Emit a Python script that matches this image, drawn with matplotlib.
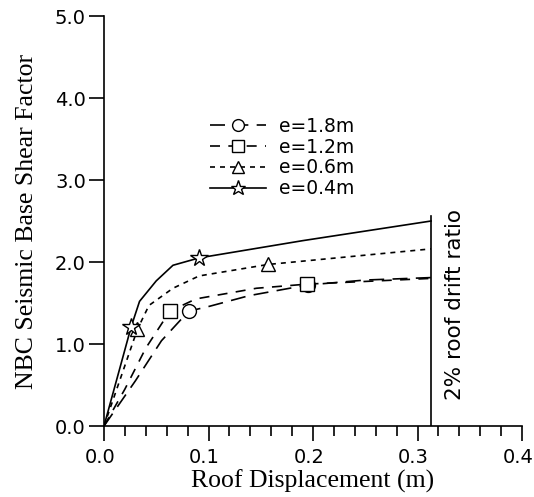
import matplotlib
matplotlib.use("Agg")
import matplotlib.pyplot as plt
import matplotlib.transforms as mtransforms
from matplotlib.ticker import MultipleLocator

# pushover curves (roof displacement in m, base shear factor)
x_18 = [0.0, 0.03, 0.055, 0.081, 0.101, 0.139, 0.195, 0.25, 0.313]
y_18 = [0.0, 0.55, 1.04, 1.40, 1.46, 1.59, 1.72, 1.78, 1.81]
x_12 = [0.0, 0.02, 0.04, 0.063, 0.088, 0.146, 0.194, 0.313]
y_12 = [0.0, 0.45, 0.95, 1.40, 1.55, 1.68, 1.73, 1.80]
x_06 = [0.0, 0.032, 0.043, 0.066, 0.091, 0.157, 0.313]
y_06 = [0.0, 1.18, 1.47, 1.68, 1.83, 1.97, 2.16]
x_04 = [0.0, 0.026, 0.034, 0.05, 0.066, 0.091, 0.19, 0.313]
y_04 = [0.0, 1.21, 1.52, 1.77, 1.96, 2.05, 2.26, 2.50]

labels = ["e=1.8m", "e=1.2m", "e=0.6m", "e=0.4m"]
drift_x = 0.313
drift_top = 2.56

sans = "DejaVu Sans"
serif = "Liberation Serif"

fig = plt.figure(figsize=(5.34, 4.97), dpi=100)
ax = fig.add_axes([104 / 534, 1 - 426 / 497, 418 / 534, 410 / 497])

mk = dict(color="black", mfc="white", mec="black", markersize=10, lw=1.2)
ax.plot(x_18, y_18, marker="o", dashes=(9, 5), markevery=[3, 6], label=labels[0], **mk)
ax.plot(x_12, y_12, marker="s", dashes=(6, 5), markevery=[3, 6], label=labels[1], **mk)
ax.plot(x_06, y_06, marker="^", dashes=(3, 3), markevery=[1, 5], label=labels[2], **mk)
ax.plot(x_04, y_04, marker="*", ls="-", markevery=[1, 5], label=labels[3],
        color="black", mfc="white", mec="black", markersize=13, lw=1.2)

# 2% roof drift limit
ax.plot([drift_x, drift_x], [0, drift_top], color="black", lw=1.2)
ax.text(drift_x + 0.023, 0.32, "2% roof drift ratio", rotation=90, ha="center",
        va="bottom", fontsize=15.5, family=sans)

ax.set_xlim(0, 0.4)
ax.set_ylim(0, 5)
ax.xaxis.set_major_locator(MultipleLocator(0.1))
ax.xaxis.set_minor_locator(MultipleLocator(0.02))
ax.yaxis.set_major_locator(MultipleLocator(1.0))
ax.set_xticklabels(["%.1f" % v for v in ax.get_xticks()])
ax.set_yticklabels(["%.1f" % v for v in ax.get_yticks()])
ax.tick_params(axis="both", which="major", length=11, width=1.2, labelsize=14)
ax.tick_params(axis="y", pad=2)
ax.tick_params(axis="x", pad=5)
ax.tick_params(axis="x", which="minor", length=7, width=1.2)
shift = mtransforms.ScaledTranslation(-4 / 100, 0, fig.dpi_scale_trans)
for lab in ax.get_xticklabels():
    lab.set_family(sans)
    lab.set_transform(lab.get_transform() + shift)
for lab in ax.get_yticklabels():
    lab.set_family(sans)

for s in ["top", "right"]:
    ax.spines[s].set_visible(False)
for s in ["left", "bottom"]:
    ax.spines[s].set_linewidth(1.2)

ax.set_xlabel("Roof Displacement (m)", family=serif, fontsize=18.5, labelpad=2)
ax.set_ylabel("NBC Seismic Base Shear Factor", family=serif, fontsize=18.5, labelpad=12)

ax.legend(loc="center", bbox_to_anchor=(0.528, 0.683), bbox_transform=fig.transFigure,
          frameon=False, prop={"family": sans, "size": 13.5}, handlelength=3.0,
          handletextpad=0.7, labelspacing=0.1, borderpad=0, markerscale=0.85)

fig.savefig("out.png", dpi=100)
